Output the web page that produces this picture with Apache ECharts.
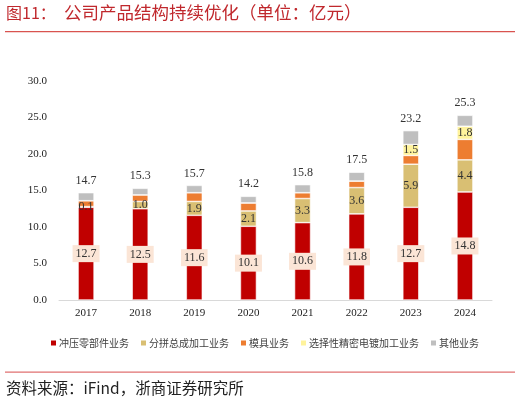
<!DOCTYPE html>
<html><head><meta charset="utf-8">
<script src="https://cdn.jsdelivr.net/npm/echarts@6/dist/echarts.min.js"></script>
<style>html,body{margin:0;padding:0;background:#fff}#c{width:520px;height:403px}</style>
</head><body><div id="c"></div>
<script>
const years = ['2017','2018','2019','2020','2021','2022','2023','2024'];
const stamping = [12.7,12.5,11.6,10.1,10.6,11.8,12.7,14.8];
const assembly = [0.1,1.0,1.9,2.1,3.3,3.6,5.9,4.4];
const mould = [0.8,0.9,1.2,1.1,0.8,0.9,1.2,2.8];
const plating = [0,0,0,0,0,0,1.5,1.8];
const other = [1.1,0.9,1.0,0.9,1.1,1.2,1.9,1.5];
const totals = [14.7,15.3,15.7,14.2,15.8,17.5,23.2,25.3];
const seriesNames = ['冲压零部件业务','分拼总成加工业务','模具业务','选择性精密电镀加工业务','其他业务'];
const yTicks = [0,5,10,15,20,25,30];

const numFont = '"Liberation Serif","DejaVu Serif",serif';
const cjkFont = '"Noto Sans CJK SC",sans-serif';
const chart = echarts.init(document.getElementById('c'));
const base = {type:'bar', stack:'s', barWidth:16, itemStyle:{borderColor:'#fff',borderWidth:0.6}};
chart.setOption({
  animation:false,
  grid:{left:59,right:28,top:81,bottom:103},
  legend:{
    top:333,left:44,itemWidth:7,itemHeight:7,itemGap:10,icon:'rect',
    textStyle:{fontFamily:cjkFont,fontSize:10,color:'#404040',padding:[0,0,0,-3]},
    data:seriesNames
  },
  graphic:[
    {type:'text',left:6,top:5,style:{text:'图11：',fill:'#C0282D',font:'16px "Noto Sans CJK SC",sans-serif'}},
    {type:'text',left:64,top:4,style:{text:'公司产品结构持续优化（单位：亿元）',fill:'#C0282D',font:'17.5px "Noto Sans CJK SC",sans-serif'}},
    {type:'rect',shape:{x:5,y:31,width:510,height:1.2},style:{fill:'#D9534F'}},
    {type:'rect',shape:{x:5,y:371.5,width:510,height:1.2},style:{fill:'#E07070'}},
    {type:'text',left:6,top:380,style:{text:'资料来源：iFind，浙商证券研究所',fill:'#222',font:'15.5px "Noto Sans CJK SC",sans-serif'}}
  ],
  xAxis:{type:'category',data:years,axisTick:{show:false},
    axisLine:{lineStyle:{color:'#D9D9D9'}},
    axisLabel:{fontFamily:numFont,fontSize:11,color:'#222',margin:8}},
  yAxis:{type:'value',min:0,max:30,interval:5,splitLine:{show:false},
    axisLabel:{fontFamily:numFont,fontSize:11,color:'#222',margin:12,formatter:v=>v.toFixed(1)}},
  series:[
    Object.assign({},base,{name:seriesNames[0],data:stamping,itemStyle:Object.assign({},base.itemStyle,{color:'#C00000'}),
      label:{show:true,position:'inside',fontFamily:numFont,fontSize:12,color:'#333',backgroundColor:'#FBE5D6',padding:[3,3,2,3],formatter:p=>p.value.toFixed(1)}}),
    Object.assign({},base,{name:seriesNames[1],data:assembly,itemStyle:Object.assign({},base.itemStyle,{color:'#D9BF73'}),
      label:{show:true,position:'inside',fontFamily:numFont,fontSize:12,color:'#333',formatter:p=>p.value>0?p.value.toFixed(1):''}}),
    Object.assign({},base,{name:seriesNames[2],data:mould,itemStyle:Object.assign({},base.itemStyle,{color:'#ED7D31'})}),
    Object.assign({},base,{name:seriesNames[3],data:plating,itemStyle:Object.assign({},base.itemStyle,{color:'#FFF39C'}),
      label:{show:true,position:'inside',fontFamily:numFont,fontSize:12,color:'#333',formatter:p=>p.value>0?p.value.toFixed(1):''}}),
    Object.assign({},base,{name:seriesNames[4],data:other,itemStyle:Object.assign({},base.itemStyle,{color:'#BFBFBF'}),
      label:{show:true,position:'top',distance:6,fontFamily:numFont,fontSize:12,color:'#333',formatter:p=>totals[p.dataIndex].toFixed(1)}})
  ]
});
</script></body></html>
